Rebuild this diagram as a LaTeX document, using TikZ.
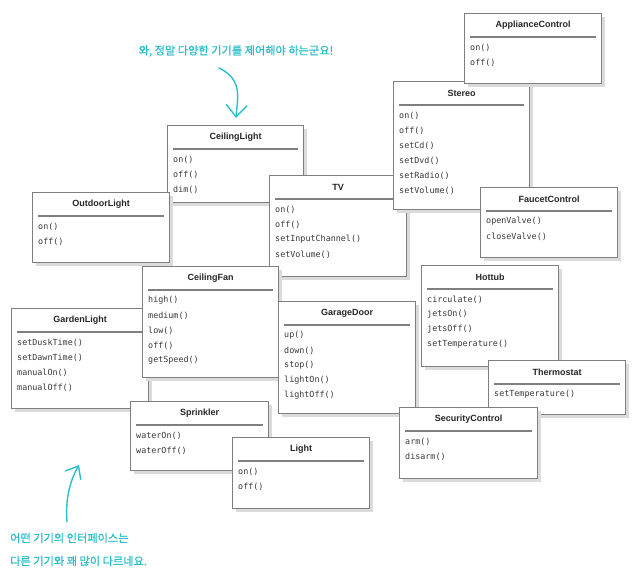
\documentclass[tikz,border=0pt]{standalone}
\usepackage{fontspec}
\setmainfont{Liberation Sans}
\newfontfamily\opfont{DejaVu Sans Mono}
\newfontfamily\notefont[FakeBold=1]{Noto Sans CJK KR}
\usetikzlibrary{arrows.meta,shadows}
\definecolor{boxline}{HTML}{7F7F7F}
\definecolor{notecol}{HTML}{2BBFC9}
\tikzset{
  devbox/.style={draw=boxline,line width=1.3pt,fill=white,anchor=north west,inner sep=0pt,
    drop shadow={shadow xshift=3.5pt,shadow yshift=-3.5pt,fill=black!14,opacity=1}},
  devtitle/.style={font=\bfseries\fontsize{9}{10}\selectfont,text=black!85,inner sep=0pt},
  devrule/.style={draw=boxline,line width=1.3pt},
  devop/.style={font=\opfont\fontsize{8.4}{10}\selectfont,text=black!78,anchor=west,inner sep=0pt},
  note/.style={font=\notefont\fontsize{11.2}{13}\selectfont,text=notecol,inner sep=0pt},
  notearrow/.style={draw=notecol,line width=1.4pt,line cap=round}
}
% box: name, x, y, width, height, title, operations
\newcommand{\devicebox}[7]{%
  \node[devbox,minimum width=#4,minimum height=#5] (#1) at (#2,-#3) {};
  \node[devtitle] (#1-t) at ([yshift=-12.5]#1.north) {#6};
  \draw[devrule] ([shift={(6,-24)}]#1.north west) -- ([shift={(-6,-24)}]#1.north east);
  \foreach \op [count=\k] in {#7}
    \node[devop] at ([shift={(6,-19.5-15*\k)}]#1.north west) {\op};
}
\begin{document}
\begin{tikzpicture}[x=1pt,y=1pt]
  \useasboundingbox (0,0) rectangle (637,-575);
  \devicebox{clight}{167}{125}{136}{77}{CeilingLight}{on(),off(),dim()}
  \devicebox{olight}{32}{192}{137}{70}{OutdoorLight}{on(),off()}
  \devicebox{tv}{269}{175}{137}{101}{TV}{on(),off(),setInputChannel(),setVolume()}
  \devicebox{stereo}{393}{81}{136}{128}{Stereo}{on(),off(),setCd(),setDvd(),setRadio(),setVolume()}
  \devicebox{ac}{464}{13}{137}{70}{ApplianceControl}{on(),off()}
  \devicebox{faucet}{480}{187}{137}{70}{FaucetControl}{openValve(),closeValve()}
  \devicebox{glight}{11}{308}{137}{100}{GardenLight}{setDuskTime(),setDawnTime(),manualOn(),manualOff()}
  \devicebox{cfan}{142}{266}{136}{111}{CeilingFan}{high(),medium(),low(),off(),getSpeed()}
  \devicebox{garage}{278}{301}{137}{112}{GarageDoor}{up(),down(),stop(),lightOn(),lightOff()}
  \devicebox{hottub}{421}{265}{137}{101}{Hottub}{circulate(),jetsOn(),jetsOff(),setTemperature()}
  \devicebox{thermo}{488}{360}{137}{54}{Thermostat}{setTemperature()}
  \devicebox{security}{399}{407}{138}{71}{SecurityControl}{arm(),disarm()}
  \devicebox{sprinkler}{130}{401}{138}{69}{Sprinkler}{waterOn(),waterOff()}
  \devicebox{light}{232}{437}{137}{71}{Light}{on(),off()}

  % notes
  \node[note] (wow) at (236,-51) {와, 정말 다양한 기기를 제어해야 하는군요!};
  \coordinate (wow-tail) at (219,-68);
  \coordinate (wow-tip) at (236,-118);
  \draw[notearrow,-{Straight Barb[length=12pt,width=21pt,line width=1.4pt]}]
    (wow-tail) .. controls (244,-80) and (237,-100) .. (wow-tip);
  \node[note,anchor=west] (diff1) at (10,-538) {어떤 기기의 인터페이스는};
  \node[note,anchor=west] (diff2) at (10,-561) {다른 기기와 꽤 많이 다르네요.};
  \coordinate (diff-tail) at (67,-522);
  \coordinate (diff-tip) at (79,-465);
  \draw[notearrow,-{Straight Barb[length=11pt,width=18pt,line width=1.4pt]}]
    (diff-tail) .. controls (65,-497) and (71,-479) .. (diff-tip);
\end{tikzpicture}
\end{document}
